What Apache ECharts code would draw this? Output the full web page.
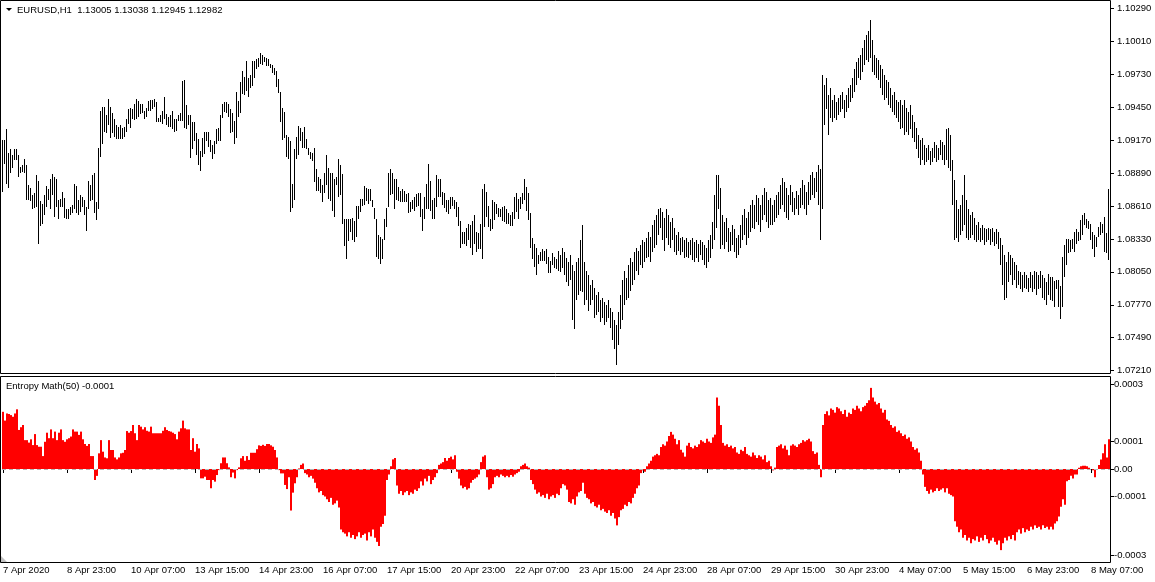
<!DOCTYPE html>
<html><head><meta charset="utf-8">
<script src="https://cdn.jsdelivr.net/npm/echarts@6/dist/echarts.min.js"></script>
<style>html,body{margin:0;padding:0;background:#fff}#c{width:1155px;height:582px}</style>
</head><body><div id="c"></div>
<script>
const tickLabels = ["7 Apr 2020","8 Apr 23:00","10 Apr 07:00","13 Apr 15:00","14 Apr 23:00","16 Apr 07:00","17 Apr 15:00","20 Apr 23:00","22 Apr 07:00","23 Apr 15:00","24 Apr 23:00","28 Apr 07:00","29 Apr 15:00","30 Apr 23:00","4 May 07:00","5 May 15:00","6 May 23:00","8 May 07:00"];
const priceTicks = [1.0721,1.0749,1.0777,1.0805,1.0833,1.0861,1.0889,1.0917,1.0945,1.0973,1.1001,1.1029];
// sub-window scale marks: window max, +0.0001, 0, -0.0001, window min
const entropyTicks = [0.000309,0.0001,0,-0.0001,-0.000313];
const headerText = "EURUSD,H1  1.13005 1.13038 1.12945 1.12982";
const indicatorText = "Entropy Math(50) -0.0001";

const high = [
1.0917,1.0917,1.0926,1.0906,1.0909,1.0904,1.0909,1.0909,1.0904,1.0894,
1.0896,1.0901,1.0896,1.0879,1.0876,1.0870,1.0872,1.0887,1.0882,1.0865,
1.0863,1.0870,1.0878,1.0875,1.0884,1.0888,1.0886,1.0884,1.0866,1.0867,
1.0873,1.0868,1.0858,1.0858,1.0860,1.0862,1.0880,1.0878,1.0866,1.0870,
1.0869,1.0866,1.0860,1.0882,1.0879,1.0887,1.0889,1.0864,1.0910,1.0942,
1.0945,1.0945,1.0938,1.0952,1.0945,1.0940,1.0935,1.0930,1.0928,1.0930,
1.0927,1.0928,1.0935,1.0943,1.0944,1.0943,1.0948,1.0952,1.0950,1.0948,
1.0948,1.0942,1.0944,1.0950,1.0951,1.0951,1.0952,1.0949,1.0936,1.0938,
1.0942,1.0954,1.0939,1.0937,1.0938,1.0942,1.0935,1.0935,1.0938,1.0940,
1.0967,1.0968,1.0947,1.0938,1.0938,1.0932,1.0932,1.0923,1.0918,1.0908,
1.0919,1.0924,1.0924,1.0924,1.0917,1.0913,1.0916,1.0926,1.0927,1.0938,
1.0948,1.0949,1.0949,1.0948,1.0943,1.0940,1.0933,1.0958,1.0950,1.0966,
1.0976,1.0971,1.0984,1.0970,1.0972,1.0984,1.0984,1.0986,1.0987,1.0991,
1.0989,1.0988,1.0987,1.0986,1.0982,1.0981,1.0978,1.0976,1.0969,1.0958,
1.0944,1.0941,1.0921,1.0920,1.0916,1.0880,1.0909,1.0920,1.0929,1.0927,
1.0924,1.0928,1.0918,1.0910,1.0907,1.0906,1.0910,1.0892,1.0886,1.0884,
1.0879,1.0889,1.0904,1.0893,1.0889,1.0889,1.0884,1.0886,1.0901,1.0896,
1.0888,1.0850,1.0850,1.0850,1.0850,1.0851,1.0848,1.0861,1.0861,1.0867,
1.0867,1.0878,1.0876,1.0875,1.0875,1.0866,1.0859,1.0850,1.0836,1.0835,
1.0833,1.0850,1.0859,1.0889,1.0892,1.0889,1.0884,1.0884,1.0877,1.0874,
1.0875,1.0874,1.0871,1.0872,1.0864,1.0866,1.0869,1.0871,1.0872,1.0872,
1.0858,1.0869,1.0880,1.0897,1.0882,1.0866,1.0868,1.0887,1.0884,1.0884,
1.0873,1.0872,1.0866,1.0866,1.0869,1.0869,1.0866,1.0864,1.0860,1.0848,
1.0839,1.0839,1.0842,1.0846,1.0845,1.0848,1.0853,1.0839,1.0838,1.0846,
1.0875,1.0880,1.0873,1.0861,1.0850,1.0866,1.0864,1.0863,1.0859,1.0858,
1.0860,1.0861,1.0858,1.0855,1.0853,1.0856,1.0869,1.0872,1.0867,1.0869,
1.0872,1.0884,1.0877,1.0872,1.0855,1.0834,1.0829,1.0825,1.0819,1.0822,
1.0824,1.0823,1.0824,1.0818,1.0814,1.0821,1.0818,1.0816,
1.0823,1.0819,1.0825,1.0822,1.0817,1.0813,1.0819,1.0811,1.0806,1.0813,
1.0817,1.0832,1.0845,1.0813,1.0806,1.0802,1.0794,1.0798,1.0791,1.0785,
1.0788,1.0781,1.0783,1.0779,1.0777,1.0781,1.0774,1.0771,1.0764,1.0760,
1.0771,1.0785,1.0798,1.0806,1.0800,1.0811,1.0817,1.0813,1.0822,1.0825,
1.0823,1.0828,1.0832,1.0830,1.0834,1.0839,1.0835,1.0845,1.0849,1.0853,
1.0858,1.0859,1.0856,1.0851,1.0858,1.0853,1.0847,1.0851,1.0842,1.0836,
1.0839,1.0834,1.0835,1.0832,1.0834,1.0830,1.0832,1.0834,1.0830,1.0832,
1.0829,1.0832,1.0830,1.0828,1.0825,1.0832,1.0836,1.0847,1.0870,1.0887,
1.0887,1.0876,1.0853,1.0847,1.0851,1.0842,1.0839,1.0845,1.0841,1.0834,
1.0836,1.0845,1.0853,1.0858,1.0851,1.0856,1.0862,1.0866,1.0862,1.0870,
1.0868,1.0862,1.0870,1.0876,1.0873,1.0866,1.0868,1.0862,1.0866,1.0870,
1.0873,1.0879,1.0885,1.0881,1.0876,1.0870,1.0879,1.0873,1.0868,1.0874,
1.0870,1.0876,1.0883,1.0879,1.0873,1.0881,1.0887,1.0890,1.0885,1.0890,
1.0896,1.0892,1.0972,1.0964,1.0970,1.0955,1.0961,1.0951,1.0955,1.0949,
1.0953,1.0955,1.0958,1.0951,1.0955,1.0961,1.0964,1.0970,1.0977,1.0983,
1.0987,1.0989,1.0995,1.1002,1.1006,1.1010,1.1019,1.1002,1.0989,1.0987,
1.0985,1.0981,1.0977,1.0972,1.0968,1.0966,1.0961,1.0955,1.0958,1.0951,
1.0949,1.0951,1.0947,1.0951,1.0944,1.0941,1.0947,1.0938,1.0932,1.0927,
1.0921,1.0917,1.0919,1.0913,1.0910,1.0913,1.0908,1.0910,1.0915,1.0913,
1.0910,1.0917,1.0915,1.0913,1.0926,1.0927,1.0921,1.0900,1.0883,1.0866,
1.0858,1.0862,1.0870,1.0887,1.0866,1.0858,1.0853,1.0856,1.0851,1.0845,
1.0847,1.0842,1.0845,1.0842,1.0841,1.0842,1.0841,1.0842,1.0839,1.0841,
1.0839,1.0834,1.0828,1.0819,1.0813,1.0822,1.0819,1.0817,1.0813,1.0811,
1.0806,1.0805,1.0802,1.0805,1.0802,1.0800,1.0805,1.0802,1.0806,1.0805,
1.0802,1.0806,1.0802,1.0800,1.0796,
1.0803,1.0801,1.0801,1.0797,1.0798,1.0798,1.0793,1.0818,1.0828,1.0833,
1.0833,1.0832,1.0833,1.0839,1.0841,1.0839,1.0849,1.0853,1.0855,1.0850,
1.0848,1.0846,1.0839,1.0836,1.0835,1.0843,1.0847,1.0846,1.0852,1.0838,
1.0875];

const low = [
1.0873,1.0897,1.0880,1.0876,1.0889,1.0893,1.0900,1.0900,1.0886,1.0889,
1.0890,1.0889,1.0866,1.0866,1.0865,1.0858,1.0859,1.0860,1.0829,1.0844,
1.0846,1.0853,1.0860,1.0866,1.0858,1.0870,1.0852,1.0860,1.0850,1.0860,
1.0860,1.0851,1.0850,1.0850,1.0853,1.0855,1.0858,1.0855,1.0853,1.0856,
1.0860,1.0853,1.0840,1.0858,1.0865,1.0866,1.0855,1.0849,1.0858,1.0903,
1.0914,1.0924,1.0923,1.0930,1.0919,1.0923,1.0920,1.0918,1.0918,1.0918,
1.0918,1.0920,1.0924,1.0931,1.0927,1.0935,1.0934,1.0935,1.0937,1.0939,
1.0940,1.0935,1.0937,1.0942,1.0942,1.0943,1.0945,1.0932,1.0932,1.0932,
1.0931,1.0935,1.0930,1.0928,1.0928,1.0926,1.0924,1.0925,1.0933,1.0933,
1.0933,1.0927,1.0926,1.0930,1.0902,1.0909,1.0916,1.0904,1.0896,1.0891,
1.0903,1.0905,1.0916,1.0911,1.0907,1.0901,1.0905,1.0914,1.0916,1.0916,
1.0936,1.0941,1.0940,1.0937,1.0923,1.0924,1.0914,1.0919,1.0937,1.0940,
1.0956,1.0955,1.0959,1.0954,1.0961,1.0963,1.0970,1.0977,1.0979,1.0982,
1.0981,1.0983,1.0980,1.0980,1.0978,1.0974,1.0972,1.0962,1.0957,1.0932,
1.0917,1.0919,1.0903,1.0901,1.0856,1.0859,1.0866,1.0901,1.0904,1.0916,
1.0910,1.0910,1.0909,1.0904,1.0901,1.0899,1.0881,1.0874,1.0874,1.0872,
1.0864,1.0872,1.0879,1.0867,1.0865,1.0857,1.0852,1.0879,1.0869,1.0870,
1.0846,1.0827,1.0816,1.0831,1.0839,1.0832,1.0830,1.0835,1.0850,1.0856,
1.0861,1.0862,1.0865,1.0863,1.0865,1.0860,1.0850,1.0818,1.0816,1.0812,
1.0816,1.0832,1.0843,1.0860,1.0870,1.0871,1.0858,1.0866,1.0865,1.0864,
1.0864,1.0864,1.0864,1.0855,1.0856,1.0858,1.0857,1.0860,1.0861,1.0852,
1.0840,1.0850,1.0858,1.0858,1.0857,1.0850,1.0850,1.0860,1.0869,1.0869,
1.0862,1.0859,1.0856,1.0854,1.0858,1.0861,1.0858,1.0852,1.0844,1.0825,
1.0829,1.0829,1.0827,1.0832,1.0825,1.0819,1.0829,1.0822,1.0824,1.0824,
1.0816,1.0843,1.0852,1.0843,1.0840,1.0841,1.0849,1.0854,1.0852,1.0852,
1.0848,1.0847,1.0846,1.0846,1.0844,1.0844,1.0850,1.0856,1.0850,1.0858,
1.0863,1.0866,1.0857,1.0849,1.0825,1.0816,1.0809,1.0802,1.0812,1.0814,
1.0814,1.0814,1.0812,1.0804,1.0804,1.0811,1.0808,1.0807,
1.0806,1.0805,1.0808,1.0802,1.0796,1.0793,1.0798,1.0764,1.0756,1.0781,
1.0785,1.0789,1.0788,1.0777,1.0781,1.0772,1.0777,1.0781,1.0766,1.0768,
1.0771,1.0762,1.0766,1.0760,1.0762,1.0766,1.0757,1.0747,1.0739,1.0726,
1.0743,1.0756,1.0764,1.0777,1.0781,1.0783,1.0789,1.0794,1.0798,1.0806,
1.0802,1.0811,1.0808,1.0813,1.0817,1.0818,1.0813,1.0822,1.0825,1.0828,
1.0836,1.0842,1.0832,1.0823,1.0834,1.0828,1.0825,1.0832,1.0822,1.0819,
1.0823,1.0819,1.0822,1.0817,1.0818,1.0817,1.0819,1.0815,1.0813,1.0817,
1.0813,1.0819,1.0815,1.0811,1.0808,1.0813,1.0817,1.0824,1.0832,1.0842,
1.0858,1.0824,1.0828,1.0824,1.0830,1.0822,1.0823,1.0828,1.0822,1.0817,
1.0819,1.0825,1.0832,1.0836,1.0828,1.0834,1.0839,1.0842,1.0841,1.0847,
1.0845,1.0839,1.0849,1.0853,1.0847,1.0842,1.0845,1.0845,1.0847,1.0851,
1.0853,1.0858,1.0862,1.0856,1.0851,1.0849,1.0862,1.0856,1.0853,1.0858,
1.0853,1.0859,1.0862,1.0858,1.0853,1.0862,1.0866,1.0870,1.0868,1.0873,
1.0862,1.0832,1.0858,1.0930,1.0943,1.0921,1.0936,1.0932,1.0936,1.0934,
1.0938,1.0941,1.0943,1.0936,1.0941,1.0944,1.0949,1.0953,1.0958,1.0964,
1.0970,1.0968,1.0975,1.0981,1.0985,1.0983,1.0987,1.0975,1.0972,1.0970,
1.0968,1.0961,1.0955,1.0951,1.0953,1.0947,1.0944,1.0941,1.0938,1.0936,
1.0932,1.0926,1.0927,1.0921,1.0924,1.0921,1.0926,1.0919,1.0915,1.0909,
1.0902,1.0896,1.0900,1.0896,1.0898,1.0900,1.0896,1.0898,1.0902,1.0898,
1.0900,1.0904,1.0900,1.0896,1.0900,1.0893,1.0891,1.0862,1.0832,1.0834,
1.0830,1.0836,1.0840,1.0845,1.0834,1.0832,1.0834,1.0836,1.0832,1.0830,
1.0832,1.0830,1.0832,1.0828,1.0830,1.0832,1.0828,1.0830,1.0827,1.0829,
1.0824,1.0811,1.0794,1.0781,1.0783,1.0796,1.0802,1.0794,1.0798,1.0791,
1.0794,1.0790,1.0788,1.0791,1.0790,1.0788,1.0791,1.0788,1.0790,1.0785,
1.0790,1.0791,1.0783,1.0781,1.0777,
1.0785,1.0781,1.0780,1.0775,1.0790,1.0775,1.0765,1.0775,1.0801,1.0811,
1.0821,1.0822,1.0824,1.0822,1.0829,1.0831,1.0832,1.0836,1.0845,1.0842,
1.0841,1.0832,1.0824,1.0818,1.0826,1.0835,1.0836,1.0838,1.0822,1.0821,
1.0815];

// Entropy Math(50) histogram, in units of 0.0001
const entropyE4 = [
2.08,1.76,2.02,2.00,1.96,1.90,2.02,2.17,1.42,1.52,
1.60,1.05,1.05,0.96,1.08,0.87,1.27,0.87,0.81,0.81,
0.47,0.99,1.32,1.12,1.44,1.12,1.36,1.05,1.32,1.44,
1.05,0.99,1.08,1.12,1.18,1.44,1.36,1.36,1.24,1.36,
1.08,0.91,0.84,0.91,0.47,0.47,-0.40,-0.25,0.57,1.05,
0.63,0.42,0.39,1.05,0.69,0.69,0.42,0.35,0.42,0.57,
0.59,0.69,1.38,1.32,1.38,1.60,1.30,1.05,1.60,1.54,
1.44,1.52,1.39,1.36,1.54,1.30,1.30,1.30,1.30,1.30,
1.39,1.52,1.42,1.38,1.36,1.32,1.27,1.08,1.36,1.48,
1.76,1.48,1.44,1.44,0.69,1.12,0.63,0.91,0.75,-0.34,
-0.34,-0.28,-0.40,-0.40,-0.70,-0.40,-0.46,-0.22,-0.04,0.21,
0.42,0.42,0.21,0.06,-0.30,-0.13,-0.34,-0.04,0.06,0.39,
0.47,0.30,0.47,0.33,0.59,0.59,0.59,0.72,0.86,0.84,
0.88,0.84,0.91,0.91,0.86,0.81,0.69,0.42,-0.04,-0.16,
-0.16,-0.58,-0.73,-0.30,-1.51,-0.86,-0.52,-0.30,0.02,0.15,
0.2,-0.15,-0.2,-0.3,-0.25,-0.35,-0.5,-0.7,-0.85,-0.8,
-0.95,-1.0,-1.1,-1.2,-1.05,-1.3,-1.25,-1.15,-1.4,-2.2,
-2.3,-2.35,-2.45,-2.3,-2.5,-2.4,-2.55,-2.45,-2.3,-2.5,
-2.4,-2.35,-2.6,-2.3,-2.45,-2.2,-2.5,-2.65,-2.8,-2.1,
-2.0,-1.7,-0.4,-0.2,0.1,0.35,0.4,-0.6,-0.9,-0.8,
-0.95,-0.85,-0.8,-0.95,-0.85,-0.9,-0.75,-0.8,-0.7,-0.45,
-0.6,-0.35,-0.45,-0.25,-0.55,-0.4,-0.3,-0.15,0.15,0.2,
0.25,0.4,0.3,0.4,0.45,0.35,0.5,-0.1,-0.35,-0.6,
-0.7,-0.65,-0.75,-0.7,-0.5,-0.4,-0.35,-0.3,-0.2,0.25,
0.45,0.5,-0.3,-0.75,-0.7,-0.55,-0.3,-0.25,-0.3,-0.2,
-0.25,-0.3,-0.25,-0.3,-0.22,-0.28,-0.2,-0.15,-0.1,0.1,
0.15,0.2,0.1,0.05,-0.4,-0.55,-0.75,-0.9,-0.85,-1.0,
-0.95,-1.05,-0.9,-1.1,-1.0,-0.95,-1.05,-0.9,-0.95,-0.7,
-0.55,-0.6,-0.75,-1.2,-1.25,-1.1,-1.3,-1.0,-0.85,-0.8,
-0.5,-0.9,-1.05,-1.1,-1.25,-1.2,-1.35,-1.4,-1.3,-1.5,
-1.45,-1.55,-1.6,-1.5,-1.7,-1.6,-1.8,-2.05,-1.75,-1.5,
-1.45,-1.3,-1.35,-1.2,-1.25,-1.05,-0.9,-0.7,-0.6,-0.15,
-0.05,-0.1,0.1,0.2,0.3,0.45,0.5,0.55,0.5,0.8,
0.9,0.85,1.0,1.2,1.35,1.25,1.1,0.9,1.05,0.7,
0.6,0.45,0.85,0.95,0.8,0.75,0.85,0.8,0.9,1.05,
1.0,0.95,1.1,1.0,0.95,1.15,1.25,2.6,2.3,1.6,
0.95,0.85,0.9,0.8,0.85,0.75,0.8,0.6,0.55,0.7,
0.65,0.8,0.55,0.5,0.45,0.6,0.5,0.4,0.5,0.45,
0.35,0.5,0.25,0.3,0.1,-0.05,0.05,0.8,0.85,0.9,
0.75,0.85,0.7,0.5,0.85,0.9,0.85,0.8,0.9,0.95,
1.05,1.0,1.05,1.1,1.0,0.65,0.55,0.6,0.15,-0.3,
1.6,2.0,2.1,1.95,2.2,2.15,2.05,2.25,2.2,2.1,
2.0,2.15,1.9,2.05,2.0,2.2,2.15,2.3,2.2,2.1,
2.25,2.3,2.4,2.5,2.95,2.6,2.45,2.35,2.4,2.2,
2.05,2.15,1.8,1.75,1.6,1.5,1.55,1.35,1.4,1.3,
1.2,1.25,1.1,1.15,1.0,0.8,0.7,0.75,0.6,0.3,
-0.2,-0.65,-0.8,-0.9,-0.75,-0.85,-0.8,-0.7,-0.8,-0.75,
-0.7,-0.85,-0.7,-0.9,-0.95,-1.0,-1.9,-2.1,-2.3,-2.2,
-2.5,-2.4,-2.6,-2.5,-2.7,-2.55,-2.6,-2.45,-2.65,-2.5,
-2.6,-2.4,-2.55,-2.7,-2.6,-2.5,-2.65,-2.75,-2.6,-2.95,
-2.7,-2.5,-2.6,-2.45,-2.55,-2.4,-2.6,-2.3,-2.2,-2.35,
-2.15,-2.3,-2.2,-2.25,-2.1,-2.2,-2.05,-2.15,-2.1,-2.2,
-2.05,-2.15,-2.1,-2.2,-2.1,-2.2,-1.98,-1.9,-1.73,-1.37,
-1.1,-1.3,-0.45,-0.4,-0.25,-0.35,-0.2,-0.2,0.05,0.1,
0.12,0.12,0.1,0.05,0.0,-0.05,-0.3,0.0,0.15,0.35,
0.57,0.9,0.42,1.08];

// hourly bar times (weekends have no bars), first bar 7 Apr 2020 15:00
const months = ["Jan","Feb","Mar","Apr","May","Jun","Jul","Aug","Sep","Oct","Nov","Dec"];
const categories = [];
let t = Date.UTC(2020, 3, 7, 15);
while (categories.length < high.length) {
  const d = new Date(t);
  const wd = d.getUTCDay();
  if (wd !== 0 && wd !== 6) {
    categories.push(d.getUTCDate() + " " + months[d.getUTCMonth()] + " " + String(d.getUTCHours()).padStart(2, "0") + ":00");
  }
  t += 3600000;
}

const FONT = "'Liberation Sans', Arial, sans-serif";
const FS = 9.5;
const chart = echarts.init(document.getElementById('c'), null, {renderer: 'canvas'});
const option = {
  animation: false,
  backgroundColor: '#ffffff',
  grid: [
    {left: 1, top: 1, width: 1109, height: 372},
    {left: 1, top: 376, width: 1109, height: 186}
  ],
  xAxis: [
    {type: 'category', gridIndex: 0, data: categories, show: false, boundaryGap: true},
    {type: 'category', gridIndex: 1, data: categories, boundaryGap: true,
     axisLine: {show: false},
     axisTick: {show: true, interval: 31, alignWithLabel: true, length: 4, lineStyle: {color: '#000'}},
     axisLabel: {interval: 31, formatter: (v, i) => tickLabels[Math.round(i / 32)] || '', align: 'left', margin: 3,
                 fontSize: FS, fontFamily: FONT, color: '#000'},
     splitLine: {show: false}}
  ],
  yAxis: [
    {type: 'value', gridIndex: 0, position: 'right', min: 1.07190, max: 1.10352,
     axisLine: {show: false}, splitLine: {show: false},
     axisTick: {show: true, customValues: priceTicks, length: 4, lineStyle: {color: '#000'}},
     axisLabel: {customValues: priceTicks, formatter: v => v.toFixed(5), margin: 7, fontSize: FS, fontFamily: FONT, color: '#000'}},
    {type: 'value', gridIndex: 1, position: 'right', min: -0.0003382, max: 0.0003382,
     axisLine: {show: false}, splitLine: {show: false},
     axisTick: {show: true, customValues: entropyTicks, length: 4, lineStyle: {color: '#000'}},
     axisLabel: {customValues: entropyTicks,
                 formatter: v => { const r = Math.round(v * 1e4) / 1e4; return Math.abs(r) < 1e-12 ? '0.00' : r.toFixed(4); },
                 margin: 4, fontSize: FS, fontFamily: FONT, color: '#000'}}
  ],
  series: [
    {
      type: 'custom', xAxisIndex: 0, yAxisIndex: 0,
      data: high.map((h, i) => [i, h, low[i]]),
      encode: {x: 0, y: [1, 2]},
      renderItem: function (params, api) {
        const i = api.value(0);
        const hp = api.coord([i, api.value(1)]);
        const lp = api.coord([i, api.value(2)]);
        const y0 = Math.round(hp[1]);
        const y1 = Math.round(lp[1]);
        return {type: 'rect', shape: {x: Math.floor(hp[0]), y: y0, width: 1, height: Math.max(1, y1 - y0)},
                style: {fill: '#000'}};
      }
    },
    {
      type: 'bar', xAxisIndex: 1, yAxisIndex: 1,
      data: entropyE4.map(v => v * 1e-4),
      barCategoryGap: '0%', barGap: '0%',
      itemStyle: {color: '#ff0000'},
      markLine: {silent: true, symbol: ['none', 'none'], label: {show: false},
                 lineStyle: {color: '#b4b4b4', type: [4, 3], width: 1},
                 data: [{yAxis: 0.0001}, {yAxis: -0.0001}]}
    }
  ],
  graphic: [
    {type: 'rect', silent: true, z: 100, shape: {x: 0.5, y: 0.5, width: 1110, height: 373},
     style: {fill: 'rgba(0,0,0,0)', stroke: '#000', lineWidth: 1}},
    {type: 'rect', silent: true, z: 100, shape: {x: 0.5, y: 376.5, width: 1110, height: 186},
     style: {fill: 'rgba(0,0,0,0)', stroke: '#000', lineWidth: 1}},
    {type: 'polygon', silent: true, z: 100, shape: {points: [[6, 8], [12, 8], [9, 11]]}, style: {fill: '#000'}},
    {type: 'text', silent: true, z: 100, x: 17, y: 10,
     style: {text: headerText, fontSize: FS, fontFamily: FONT, fill: '#000', verticalAlign: 'middle'}},
    {type: 'text', silent: true, z: 100, x: 6, y: 386,
     style: {text: indicatorText, fontSize: FS, fontFamily: FONT, fill: '#000', verticalAlign: 'middle'}},
    {type: 'polygon', silent: true, z: 100, shape: {points: [[1, 556], [1, 562], [7, 562]]}, style: {fill: '#c0c0c0'}}
  ]
};
chart.setOption(option);
if (high.length !== low.length || high.length !== entropyE4.length) {
  throw new Error('length mismatch high=' + high.length + ' low=' + low.length + ' ent=' + entropyE4.length);
}
</script>
</body></html>
